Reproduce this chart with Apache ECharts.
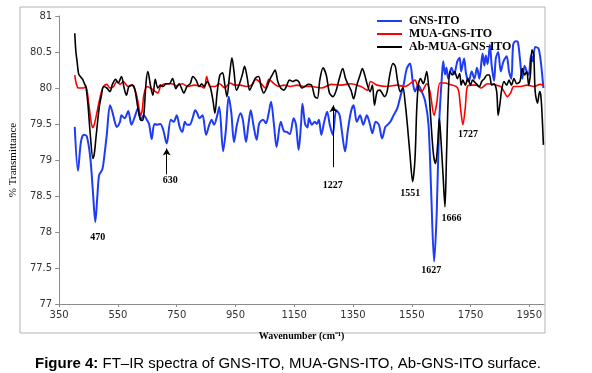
<!DOCTYPE html>
<html>
<head>
<meta charset="utf-8">
<script src="https://cdn.jsdelivr.net/npm/echarts@6/dist/echarts.min.js"></script>
<style>
  html, body { margin: 0; padding: 0; background: #fff; }
  #chart { width: 592px; height: 373px; }
</style>
</head>
<body>
<div id="chart"></div>
<script>
// GNS-ITO (blue)
const gnsWn = [403, 414, 424, 434, 444, 456, 465, 473, 480, 486, 497, 505, 512, 523, 531, 538, 546, 557, 562, 573, 585, 596, 609, 618, 627, 638, 648, 656, 665, 674, 684, 694, 704, 716, 730, 740, 750, 760, 769, 778, 785, 794, 804, 813, 820, 827, 838, 850, 861, 869, 877, 888, 895, 908, 917, 927, 936, 945, 955, 967, 975, 986, 994, 1002, 1011, 1022, 1031, 1044, 1054, 1063, 1071, 1081, 1090, 1104, 1115, 1125, 1135, 1148, 1156, 1165, 1173, 1178, 1187, 1195, 1200, 1210, 1220, 1227, 1234, 1242, 1252, 1262, 1271, 1281, 1293, 1304, 1312, 1323, 1332, 1343, 1352, 1363, 1374, 1385, 1397, 1408, 1416, 1427, 1438, 1449, 1460, 1468, 1477, 1488, 1501, 1511, 1522, 1533, 1544, 1553, 1561, 1572, 1584, 1596, 1607, 1616, 1626, 1635, 1643, 1652, 1657, 1663, 1668, 1674, 1685, 1694, 1705, 1713, 1718, 1728, 1735, 1744, 1754, 1763, 1772, 1780, 1791, 1797, 1802, 1808, 1816, 1822, 1830, 1836, 1844, 1853, 1862, 1873, 1881, 1889, 1895, 1903, 1911, 1918, 1926, 1934, 1941, 1948, 1956, 1962, 1970, 1981, 1989, 1998];
const gnsT = [79.46, 78.85, 79.25, 79.35, 79.33, 79.03, 78.55, 78.14, 78.5, 78.79, 78.87, 79.1, 79.35, 79.76, 79.67, 79.55, 79.46, 79.53, 79.62, 79.58, 79.68, 79.49, 79.62, 79.72, 79.56, 79.62, 79.56, 79.5, 79.29, 79.5, 79.49, 79.5, 79.42, 79.23, 79.56, 79.53, 79.62, 79.46, 79.39, 79.53, 79.49, 79.49, 79.58, 79.69, 79.65, 79.58, 79.62, 79.35, 79.49, 79.56, 79.49, 79.62, 79.74, 79.12, 79.4, 79.88, 79.65, 79.25, 79.49, 79.65, 79.56, 79.25, 79.49, 79.69, 79.49, 79.28, 79.51, 79.56, 79.51, 79.65, 79.81, 79.49, 79.18, 79.53, 79.4, 79.39, 79.36, 79.58, 79.49, 79.14, 79.49, 79.78, 79.5, 79.45, 79.58, 79.49, 79.53, 79.5, 79.56, 79.35, 79.53, 79.67, 79.49, 79.35, 79.69, 79.63, 79.4, 79.12, 79.4, 79.67, 79.76, 79.53, 79.62, 79.49, 79.62, 79.49, 79.37, 79.53, 79.49, 79.3, 79.46, 79.49, 79.53, 79.62, 79.72, 79.88, 80.04, 80.27, 80.34, 80.1, 79.95, 80.04, 79.95, 79.81, 79.49, 78.56, 77.59, 78.28, 79.49, 80.13, 80.37, 80.19, 80.28, 80.13, 80.28, 80.19, 80.37, 80.42, 80.23, 80.41, 80.19, 80.09, 80.23, 80.13, 80.28, 80.13, 80.48, 80.31, 80.45, 80.33, 80.6, 80.31, 80.1, 80.41, 80.5, 80.23, 80.37, 80.44, 80.23, 80.13, 80.6, 80.65, 80.64, 80.41, 80.13, 80.31, 80.23, 80.18, 80.46, 80.37, 80.57, 80.55, 80.37, 80.0];

// MUA-GNS-ITO (red)
const muaWn = [403, 409, 416, 425, 433, 441, 451, 458, 464, 470, 478, 486, 494, 501, 512, 523, 535, 546, 557, 568, 585, 598, 610, 618, 627, 633, 638, 649, 664, 678, 686, 695, 711, 733, 750, 769, 788, 810, 833, 844, 852, 863, 880, 895, 914, 931, 948, 965, 987, 1004, 1020, 1037, 1051, 1064, 1081, 1098, 1115, 1137, 1160, 1182, 1209, 1242, 1276, 1310, 1343, 1377, 1399, 1410, 1432, 1466, 1500, 1527, 1544, 1561, 1572, 1583, 1601, 1612, 1626, 1635, 1646, 1663, 1680, 1702, 1710, 1716, 1724, 1732, 1739, 1752, 1769, 1786, 1808, 1836, 1853, 1864, 1875, 1886, 1897, 1920, 1942, 1965, 1987, 1998];
const muaT = [80.18, 80.05, 80.0, 80.0, 80.0, 80.02, 79.77, 79.55, 79.45, 79.5, 79.65, 79.81, 79.95, 80.02, 80.05, 80.0, 80.02, 80.09, 80.05, 80.09, 80.02, 80.04, 79.95, 79.81, 79.62, 79.7, 79.9, 80.02, 79.99, 79.95, 79.93, 80.02, 80.06, 80.06, 80.03, 80.06, 80.02, 80.04, 80.02, 80.0, 80.16, 80.02, 80.02, 80.06, 80.0, 80.07, 80.04, 80.04, 80.02, 80.04, 80.12, 80.06, 80.0, 80.12, 80.06, 80.02, 80.04, 80.02, 80.04, 80.02, 80.02, 80.0, 80.05, 80.04, 80.06, 80.02, 79.97, 80.09, 80.04, 80.02, 80.04, 80.02, 80.06, 80.11, 80.0, 79.95, 80.06, 79.95, 79.62, 79.79, 80.07, 80.07, 80.05, 80.02, 79.95, 79.72, 79.49, 79.72, 80.02, 80.04, 80.04, 80.0, 80.06, 80.04, 80.02, 79.95, 79.88, 79.93, 80.02, 80.02, 80.04, 80.02, 80.05, 80.04];

// Ab-MUA-GNS-ITO (black)
const abWn = [403, 407, 411, 416, 422, 430, 436, 441, 448, 456, 465, 470, 475, 486, 494, 501, 512, 523, 531, 542, 551, 562, 571, 579, 587, 598, 607, 618, 627, 633, 638, 646, 652, 660, 669, 677, 686, 695, 704, 714, 725, 736, 747, 758, 769, 774, 785, 796, 805, 816, 827, 835, 843, 854, 865, 874, 880, 888, 897, 906, 914, 921, 930, 938, 945, 953, 962, 973, 981, 990, 998, 1007, 1018, 1029, 1037, 1046, 1058, 1066, 1075, 1085, 1094, 1104, 1115, 1123, 1134, 1145, 1156, 1165, 1176, 1186, 1198, 1209, 1220, 1229, 1237, 1248, 1259, 1270, 1282, 1293, 1304, 1315, 1324, 1332, 1343, 1352, 1363, 1374, 1382, 1390, 1399, 1408, 1416, 1423, 1432, 1441, 1449, 1457, 1466, 1475, 1486, 1494, 1502, 1511, 1520, 1527, 1535, 1544, 1553, 1561, 1567, 1573, 1580, 1589, 1594, 1601, 1607, 1616, 1624, 1631, 1638, 1644, 1649, 1657, 1663, 1668, 1674, 1680, 1688, 1696, 1705, 1713, 1718, 1724, 1732, 1741, 1750, 1757, 1769, 1780, 1788, 1797, 1806, 1814, 1822, 1830, 1839, 1844, 1851, 1855, 1864, 1873, 1881, 1889, 1898, 1907, 1918, 1926, 1934, 1941, 1948, 1954, 1959, 1965, 1970, 1978, 1985, 1989, 1993, 1998];
const abT = [80.76, 80.5, 80.37, 80.2, 80.16, 80.12, 80.06, 80.02, 79.77, 79.35, 79.02, 79.1, 79.3, 79.72, 79.9, 80.02, 80.0, 79.95, 80.05, 80.12, 80.07, 80.16, 80.0, 79.9, 80.02, 80.04, 79.99, 79.72, 79.56, 79.55, 79.62, 80.09, 80.23, 80.05, 79.9, 80.12, 80.0, 80.04, 80.02, 80.06, 80.06, 80.13, 79.99, 80.06, 79.97, 79.93, 80.02, 80.06, 80.16, 80.11, 80.02, 80.06, 80.02, 80.09, 80.0, 79.81, 79.65, 79.95, 80.18, 80.21, 80.04, 79.88, 80.18, 80.42, 80.23, 79.97, 80.04, 80.18, 80.3, 80.14, 79.97, 80.04, 80.14, 80.16, 80.02, 79.93, 80.02, 80.11, 80.18, 80.25, 80.09, 80.0, 79.97, 80.02, 80.11, 80.09, 80.11, 80.09, 80.0, 80.02, 80.05, 80.04, 79.88, 79.86, 80.11, 80.28, 80.18, 79.93, 79.88, 79.97, 80.14, 80.27, 80.14, 80.06, 79.97, 79.85, 80.04, 80.18, 80.27, 80.18, 80.04, 79.95, 80.04, 79.76, 79.95, 79.97, 79.93, 79.88, 79.95, 80.18, 80.34, 80.3, 80.09, 79.95, 80.0, 79.81, 79.49, 79.07, 78.7, 79.02, 79.72, 80.06, 80.13, 80.06, 80.11, 80.23, 80.04, 79.49, 79.07, 78.95, 79.21, 79.58, 79.3, 78.75, 78.35, 79.02, 79.86, 80.23, 80.18, 80.23, 80.13, 80.2, 80.04, 80.11, 80.04, 80.13, 80.04, 80.11, 80.06, 80.02, 80.09, 80.13, 80.18, 80.18, 80.04, 80.06, 79.95, 79.62, 79.81, 79.95, 80.09, 80.04, 80.11, 80.04, 80.13, 80.06, 80.09, 80.27, 80.18, 80.23, 80.04, 80.2, 80.53, 80.46, 79.95, 79.79, 79.95, 79.9, 79.67, 79.21];

const seriesNames = ['GNS-ITO', 'MUA-GNS-ITO', 'Ab-MUA-GNS-ITO'];
const seriesColors = ['#1f3cf5', '#ff0000', '#000000'];

// peak annotations (label text, where it sits in data coords)
const peakLabels = ['470', '630', '1227', '1551', '1627', '1666', '1727'];
const peakLabelWn = [481, 728, 1281, 1545, 1616, 1685, 1741];
const peakLabelT = [77.93, 78.71, 78.64, 78.54, 77.46, 78.19, 79.36];
// arrows pointing up at two bands
const arrowWn = [716, 1283];
const arrowFrom = [78.8, 78.9];
const arrowTo = [79.16, 79.76];

const xTicks = { min: 350, max: 2000, step: 200 };
const yTicks = { min: 77, max: 81, step: 0.5 };

const zip = (xs, ys) => xs.map((x, i) => [x, ys[i]]);

const chart = echarts.init(document.getElementById('chart'));

const serif = '"Liberation Serif", "Times New Roman", serif';
const sans = '"DejaVu Sans", Verdana, sans-serif';

chart.setOption({
  backgroundColor: '#fff',
  animation: false,
  grid: { left: 52, right: 48, top: 16, bottom: 69 },
  legend: {
    orient: 'vertical',
    left: 372,
    top: 10,
    itemWidth: 25,
    itemHeight: 2,
    itemGap: 1,
    icon: 'rect',
    data: seriesNames,
    textStyle: { fontFamily: serif, fontWeight: 'bold', fontSize: 12, color: '#000', padding: [0, 0, 0, 2] },
  },
  xAxis: {
    type: 'value',
    min: xTicks.min,
    max: xTicks.max,
    interval: xTicks.step,
    name: 'Wavenumber (cm⁻¹)',
    nameLocation: 'middle',
    nameGap: 27,
    nameTextStyle: { fontFamily: serif, fontWeight: 'bold', fontSize: 10, color: '#000' },
    axisLine: { lineStyle: { color: '#8c8c8c' } },
    axisTick: { length: 3, lineStyle: { color: '#8c8c8c' } },
    axisLabel: {
      showMaxLabel: false,
      color: '#333',
      fontFamily: sans,
      fontSize: 10,
      margin: 6,
      formatter: (v) => String(v),
    },
    splitLine: { show: false },
  },
  yAxis: {
    type: 'value',
    min: yTicks.min,
    max: yTicks.max,
    interval: yTicks.step,
    name: '% Transmittance',
    nameLocation: 'middle',
    nameGap: 36,
    nameTextStyle: { fontFamily: serif, fontSize: 11, color: '#000' },
    axisLine: { show: true, lineStyle: { color: '#8c8c8c' } },
    axisTick: { show: true, length: 4, lineStyle: { color: '#8c8c8c' } },
    axisLabel: {
      color: '#333',
      fontFamily: sans,
      fontSize: 10,
      margin: 7,
      formatter: (v) => String(v),
    },
    splitLine: { show: false },
  },
  series: [
    {
      name: seriesNames[0],
      type: 'line',
      data: zip(gnsWn, gnsT),
      showSymbol: false,
      smooth: 0.3,
      color: seriesColors[0],
      lineStyle: { width: 2 },
    },
    {
      name: seriesNames[1],
      type: 'line',
      data: zip(muaWn, muaT),
      showSymbol: false,
      smooth: 0.3,
      color: seriesColors[1],
      lineStyle: { width: 1.6 },
    },
    {
      name: seriesNames[2],
      type: 'line',
      data: zip(abWn, abT),
      showSymbol: false,
      smooth: 0.3,
      color: seriesColors[2],
      lineStyle: { width: 1.6 },
      markPoint: {
        symbolSize: 0,
        silent: true,
        label: {
          show: true,
          position: 'inside',
          color: '#000',
          fontFamily: serif,
          fontWeight: 'bold',
          fontSize: 10,
          formatter: (p) => p.name,
        },
        data: peakLabels.map((t, i) => ({ name: t, coord: [peakLabelWn[i], peakLabelT[i]] })),
      },
      markLine: {
        silent: true,
        symbol: ['none', 'arrow'],
        symbolSize: [6, 7],
        label: { show: false },
        lineStyle: { color: '#000', width: 1, type: 'solid' },
        data: arrowWn.map((w, i) => [
          { coord: [w, arrowFrom[i]] },
          { coord: [w, arrowTo[i]] },
        ]),
      },
    },
  ],
  graphic: [
    {
      type: 'rect',
      silent: true,
      z: -1,
      shape: { x: 20, y: 7, width: 525, height: 326 },
      style: { fill: 'none', stroke: '#b4b4b4', lineWidth: 1 },
    },
    {
      type: 'text',
      left: 35,
      top: 356,
      style: {
        text: '{b|Figure 4:} FT–IR spectra of GNS-ITO, MUA-GNS-ITO, Ab-GNS-ITO surface.',
        fontFamily: '"Liberation Sans", Arial, sans-serif',
        fontSize: 15,
        fill: '#000',
        rich: { b: { fontWeight: 'bold', fontFamily: '"Liberation Sans", Arial, sans-serif', fontSize: 15 } },
      },
    },
  ],
});
</script>
</body>
</html>
